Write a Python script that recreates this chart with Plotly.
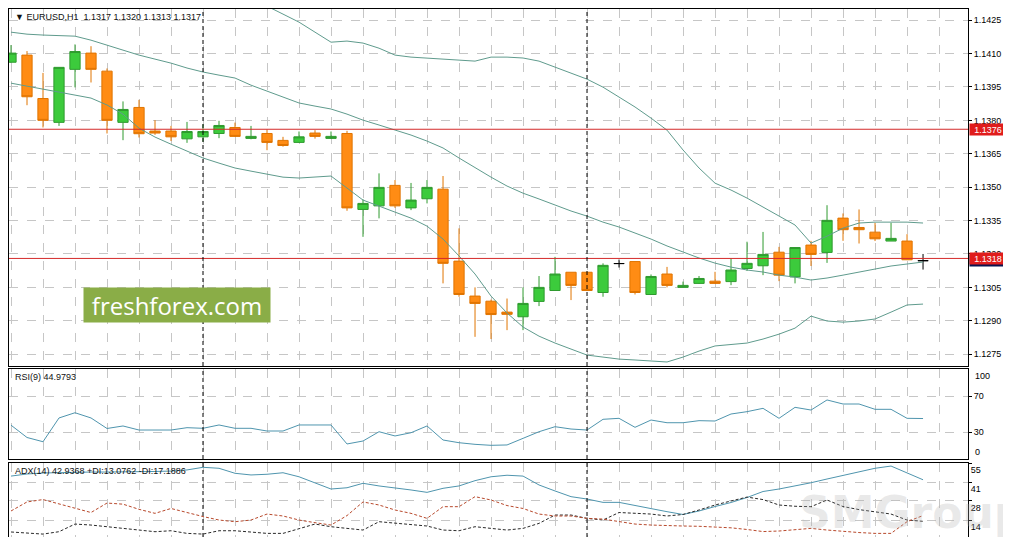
import plotly.graph_objects as go

# EURUSD H1, values
opens = [1.14061, 1.14093, 1.13898, 1.13791, 1.14029, 1.14102, 1.14021, 1.13791, 1.13858, 1.13752,
         1.13752, 1.13717, 1.13726, 1.13741, 1.13768, 1.13719, 1.13741, 1.13710, 1.13701, 1.13743,
         1.13719, 1.13741, 1.13400, 1.13416, 1.13508, 1.13407, 1.13448, 1.13491, 1.13168, 1.13011,
         1.12988, 1.12939, 1.12918, 1.12987, 1.13036, 1.13118, 1.13118, 1.13027, 1.13157, 1.13166,
         1.13018, 1.13110, 1.13050, 1.13068, 1.13078, 1.13076, 1.13135, 1.13147, 1.13208, 1.13097,
         1.13240, 1.13207, 1.13361, 1.13319, 1.13298, 1.13258, 1.13258, 1.13170]
highs = [1.14138, 1.14111, 1.14013, 1.14039, 1.14141, 1.14133, 1.14033, 1.13885, 1.13892, 1.13801,
         1.13775, 1.13793, 1.13782, 1.13798, 1.13790, 1.13775, 1.13759, 1.13726, 1.13750, 1.13756,
         1.13750, 1.13753, 1.13445, 1.13562, 1.13532, 1.13519, 1.13532, 1.13550, 1.13315, 1.13050,
         1.12995, 1.13000, 1.13050, 1.13101, 1.13187, 1.13118, 1.13120, 1.13158, 1.13175, 1.13166,
         1.13108, 1.13142, 1.13076, 1.13101, 1.13120, 1.13180, 1.13255, 1.13299, 1.13232, 1.13230,
         1.13259, 1.13419, 1.13382, 1.13400, 1.13340, 1.13340, 1.13289, 1.13200]
lows = [1.14058, 1.13868, 1.13768, 1.13775, 1.13948, 1.13970, 1.13741, 1.13711, 1.13723, 1.13735,
        1.13707, 1.13699, 1.13704, 1.13720, 1.13725, 1.13715, 1.13666, 1.13682, 1.13700, 1.13718,
        1.13717, 1.13394, 1.13277, 1.13360, 1.13407, 1.13397, 1.13427, 1.13068, 1.13008, 1.12828,
        1.12818, 1.12858, 1.12858, 1.12966, 1.13036, 1.12993, 1.13034, 1.13008, 1.13139, 1.13018,
        1.13018, 1.13050, 1.13050, 1.13066, 1.13066, 1.13060, 1.13124, 1.13105, 1.13078, 1.13068,
        1.13146, 1.13160, 1.13259, 1.13247, 1.13258, 1.13258, 1.13174, 1.13130]
closes = [1.14102, 1.13906, 1.13800, 1.14038, 1.14109, 1.14029, 1.13800, 1.13849, 1.13740, 1.13743,
          1.13726, 1.13750, 1.13750, 1.13777, 1.13728, 1.13728, 1.13701, 1.13687, 1.13726, 1.13728,
          1.13728, 1.13407, 1.13427, 1.13499, 1.13416, 1.13442, 1.13499, 1.13158, 1.13018, 1.12978,
          1.12928, 1.12929, 1.12978, 1.13050, 1.13110, 1.13059, 1.13036, 1.13149, 1.13157, 1.13027,
          1.13099, 1.13059, 1.13059, 1.13090, 1.13068, 1.13128, 1.13158, 1.13198, 1.13105, 1.13229,
          1.13198, 1.13351, 1.13309, 1.13309, 1.13268, 1.13270, 1.13174, 1.13170]

# bollinger bands
bb_upper = [1.14425, 1.14421, 1.14425, 1.14434, 1.14443, 1.14421, 1.14407, 1.14403, 1.14421, 1.14425,
            1.14421, 1.14407, 1.14403, 1.14398, 1.14394, 1.14344, 1.14313, 1.14277, 1.14241, 1.14196,
            1.14151, 1.14156, 1.14147, 1.14124, 1.14093, 1.14084, 1.14080, 1.14075, 1.14071, 1.14066,
            1.14084, 1.14084, 1.14080, 1.14066, 1.14039, 1.14012, 1.13985, 1.13949, 1.13905, 1.13860,
            1.13810, 1.13756, 1.13667, 1.13586, 1.13518, 1.13487, 1.13451, 1.13411, 1.13370, 1.13330,
            1.13249, 1.13280, 1.13316, 1.13339, 1.13343, 1.13343, 1.13343, 1.13339]
bb_mid = [1.14196, 1.14187, 1.14183, 1.14181, 1.14178, 1.14160, 1.14138, 1.14116, 1.14093, 1.14075,
          1.14057, 1.14035, 1.14017, 1.14003, 1.13990, 1.13958, 1.13931, 1.13905, 1.13878, 1.13864,
          1.13851, 1.13828, 1.13801, 1.13779, 1.13756, 1.13734, 1.13707, 1.13676, 1.13631, 1.13586,
          1.13545, 1.13505, 1.13473, 1.13447, 1.13420, 1.13393, 1.13370, 1.13343, 1.13321, 1.13294,
          1.13267, 1.13236, 1.13209, 1.13182, 1.13159, 1.13141, 1.13128, 1.13119, 1.13105, 1.13096,
          1.13083, 1.13092, 1.13105, 1.13119, 1.13132, 1.13146, 1.13155, 1.13164]
bb_lower = [1.13967, 1.13954, 1.13940, 1.13927, 1.13913, 1.13900, 1.13869, 1.13828, 1.13765, 1.13725,
            1.13693, 1.13662, 1.13631, 1.13608, 1.13586, 1.13572, 1.13559, 1.13545, 1.13541, 1.13545,
            1.13550, 1.13496, 1.13442, 1.13415, 1.13388, 1.13361, 1.13325, 1.13267, 1.13191, 1.13110,
            1.13011, 1.12935, 1.12872, 1.12831, 1.12800, 1.12773, 1.12746, 1.12737, 1.12728, 1.12724,
            1.12719, 1.12715, 1.12737, 1.12764, 1.12787, 1.12795, 1.12800, 1.12818, 1.12840, 1.12867,
            1.12921, 1.12899, 1.12894, 1.12899, 1.12908, 1.12939, 1.12971, 1.12975]

rsi = [37.6, 23.9, 19.2, 45.6, 51.4, 45.6, 33.9, 36.7, 32.2, 32.2,
       32.2, 34.8, 34.1, 37.8, 34.1, 34.1, 31.1, 31.1, 37.8, 37.8,
       37.8, 16.7, 20.0, 30.3, 25.6, 29.2, 36.7, 21.1, 18.1, 16.3,
       15.2, 15.6, 23.0, 30.3, 35.9, 33.3, 32.2, 44.1, 45.2, 35.2,
       43.3, 40.3, 40.3, 42.6, 42.2, 50.0, 52.6, 56.3, 45.2, 57.4,
       54.4, 65.6, 61.1, 61.1, 55.2, 55.2, 45.2, 44.9793]

adx = [45.6, 47.1, 47.8, 48.2, 48.5, 48.5, 48.5, 48.5, 48.5, 48.9,
       49.2, 50.0, 51.9, 51.2, 47.6, 46.4, 46.9, 48.0, 45.1, 40.8,
       36.3, 37.2, 40.4, 38.5, 37.2, 35.6, 33.9, 36.8, 38.5, 42.3,
       45.1, 46.2, 45.6, 39.2, 34.9, 30.8, 29.1, 26.7, 26.7, 24.3,
       21.9, 20.0, 18.0, 20.5, 23.7, 26.6, 30.2, 34.5, 36.3, 38.5,
       40.8, 43.5, 46.0, 48.5, 51.2, 52.8, 47.6, 42.9368]
plus_di = [5.4, 4.6, 3.9, 5.6, 11.1, 10.4, 9.3, 8.0, 6.8, 5.6,
           6.3, 4.4, 3.9, 6.3, 6.3, 5.6, 4.4, 4.4, 8.0, 11.1,
           9.2, 8.0, 6.8, 12.8, 11.6, 10.4, 9.7, 6.8, 6.3, 9.2,
           8.0, 6.8, 8.0, 11.6, 17.6, 17.6, 15.2, 14.0, 19.4, 18.8,
           18.3, 16.9, 18.0, 21.2, 24.8, 27.7, 30.5, 28.7, 24.8, 23.9,
           23.6, 28.4, 23.7, 21.5, 20.0, 18.3, 14.0, 13.0762]
minus_di = [20.5, 27.0, 28.7, 25.5, 22.4, 19.4, 26.2, 25.4, 21.7, 18.8,
            22.3, 19.2, 16.5, 14.0, 12.8, 14.0, 18.3, 16.9, 14.0, 12.1,
            10.4, 17.2, 27.0, 24.8, 21.2, 18.8, 15.2, 23.6, 23.6, 30.8,
            28.4, 24.4, 22.3, 18.3, 16.9, 16.9, 15.2, 14.7, 12.8, 11.1,
            10.4, 9.9, 9.7, 9.5, 9.2, 8.4, 7.2, 5.7, 6.1, 7.2,
            8.0, 6.8, 5.7, 5.0, 4.4, 4.4, 12.8, 17.1886]

price_ticks = [1.1425, 1.1410, 1.1395, 1.1380, 1.1365, 1.1350, 1.1335, 1.1320, 1.1305, 1.1290, 1.1275]
levels = [1.1376, 1.1318]
day_starts = [12, 36]
rsi_levels = [70, 30]
adx_ticks = [55, 41, 28, 14]

idx = list(range(len(closes)))
body = [i for i in idx if opens[i] != closes[i]]
doji = [i for i in idx if opens[i] == closes[i]]

font = 'Liberation Sans, Arial, sans-serif'
tick_font = dict(family=font, size=9, color='black')
band_color = '#5f9b8d'
ind_color = '#4f95ae'

fig = go.Figure()

fig.add_trace(go.Candlestick(
    x=body, open=[opens[i] for i in body], high=[highs[i] for i in body],
    low=[lows[i] for i in body], close=[closes[i] for i in body],
    increasing=dict(line=dict(color='#2f9a2f', width=1), fillcolor='#3ccb3c'),
    decreasing=dict(line=dict(color='#e07400', width=1), fillcolor='#ff8c14'),
    xaxis='x', yaxis='y'))
fig.add_trace(go.Candlestick(
    x=doji, open=[opens[i] for i in doji], high=[highs[i] for i in doji],
    low=[lows[i] for i in doji], close=[closes[i] for i in doji],
    increasing=dict(line=dict(color='black', width=1), fillcolor='black'),
    decreasing=dict(line=dict(color='black', width=1), fillcolor='black'),
    xaxis='x', yaxis='y'))

for band in [bb_upper, bb_mid, bb_lower]:
    fig.add_trace(go.Scatter(x=idx, y=band, mode='lines',
                             line=dict(color=band_color, width=1), xaxis='x', yaxis='y'))

fig.add_trace(go.Scatter(x=idx, y=rsi, mode='lines', line=dict(color=ind_color, width=1),
                         xaxis='x2', yaxis='y2'))

fig.add_trace(go.Scatter(x=idx, y=adx, mode='lines', line=dict(color=ind_color, width=1),
                         xaxis='x3', yaxis='y3'))
fig.add_trace(go.Scatter(x=idx, y=plus_di, mode='lines',
                         line=dict(color='#2a2a2a', width=1, dash='3px,2px'), xaxis='x3', yaxis='y3'))
fig.add_trace(go.Scatter(x=idx, y=minus_di, mode='lines',
                         line=dict(color='#b8492c', width=1, dash='3px,2px'), xaxis='x3', yaxis='y3'))

grid = dict(showgrid=True, gridcolor='#c6c6c6', griddash='dash', gridwidth=1, zeroline=False)
xcommon = dict(range=[-0.125, 59.81], tickvals=list(range(0, 60, 2)), showticklabels=False,
               ticks='', showline=True, mirror=True, linecolor='black', linewidth=1, **grid)
ycommon = dict(side='right', ticks='outside', ticklen=3, tickcolor='black', tickfont=tick_font,
               showline=True, mirror=True, linecolor='black', linewidth=1, **grid)

# page body adds an 8px offset, so the figure starts at the chart frame
fig.update_layout(
    width=1003, height=529, margin=dict(l=1, r=43, t=1, b=0),
    paper_bgcolor='white', plot_bgcolor='white', showlegend=False,
    boxgap=0.2, boxgroupgap=0.2, hovermode=False,
    xaxis=dict(anchor='y', rangeslider=dict(visible=False), **xcommon),
    xaxis2=dict(anchor='y2', matches='x', **xcommon),
    xaxis3=dict(anchor='y3', matches='x', **xcommon),
    yaxis=dict(domain=[0.32386, 1.0], range=[1.12697, 1.14300], anchor='x',
               tickvals=price_ticks, tickformat='.4f', **ycommon),
    yaxis2=dict(domain=[0.14773, 0.31818], range=[0, 100], anchor='x2',
                tickvals=rsi_levels, **ycommon),
    yaxis3=dict(domain=[0, 0.14015], range=[1.8, 55], anchor='x3',
                tickvals=adx_ticks, ticklabelposition='outside bottom', **ycommon),
)

shapes = []
for lv in levels:
    shapes.append(dict(type='line', xref='x domain', yref='y', x0=0, x1=1, y0=lv, y1=lv,
                       line=dict(color='#d42a2a', width=1)))
for d in day_starts:
    for ya in ['y', 'y2', 'y3']:
        shapes.append(dict(type='line', xref='x', yref=ya + ' domain', x0=d, x1=d, y0=0, y1=1,
                           line=dict(color='black', width=1, dash='4px,3px')))
fig.update_layout(shapes=shapes)

ann = []
header = 'EURUSD,H1  %.4f %.4f %.4f %.4f' % (opens[-1], highs[-1], lows[-1], closes[-1])
ann.append(dict(xref='x domain', yref='y domain', x=0, y=1, xanchor='left', yanchor='top',
                xshift=4, yshift=-1, showarrow=False, text='▼ ' + header,
                font=dict(family=font, size=9, color='#111111')))
ann.append(dict(xref='x2 domain', yref='y2 domain', x=0, y=1, xanchor='left', yanchor='top',
                xshift=4, yshift=-1, showarrow=False, text='RSI(9) %.4f' % rsi[-1],
                font=dict(family=font, size=9, color='#111111')))
ann.append(dict(xref='x3 domain', yref='y3 domain', x=0, y=1, xanchor='left', yanchor='top',
                xshift=4, yshift=-1, showarrow=False,
                text='ADX(14) %.4f +DI:%.4f -DI:%.4f' % (adx[-1], plus_di[-1], minus_di[-1]),
                font=dict(family=font, size=9, color='#111111')))
ann.append(dict(xref='paper', yref='y2', x=1, y=100, xanchor='left', yanchor='top', xshift=5,
                showarrow=False, text='100', font=tick_font))
ann.append(dict(xref='paper', yref='y2', x=1, y=0, xanchor='left', yanchor='bottom', xshift=5,
                showarrow=False, text='0', font=tick_font))
# current bid label sits behind the level label
ann.append(dict(xref='paper', yref='y', x=1, y=closes[-1], xanchor='left', yanchor='middle', xshift=1,
                showarrow=False, text='%.4f' % closes[-1], bgcolor='#0a1450', width=36, height=11,
                borderpad=0, font=dict(family=font, size=9, color='white')))
for lv in levels:
    ann.append(dict(xref='paper', yref='y', x=1, y=lv, xanchor='left', yanchor='middle', xshift=1,
                    showarrow=False, text='%.4f' % lv, bgcolor='#e01c1c', width=36, height=11,
                    borderpad=0, font=dict(family=font, size=9, color='white')))
ann.append(dict(xref='paper', yref='paper', x=0.1757, y=0.4403, xanchor='center', yanchor='middle',
                showarrow=False, text='freshforex.com', bgcolor='#8aad47', width=186, height=34,
                borderpad=0, font=dict(family='Open Sans', size=24, color='white')))
ann.append(dict(xref='paper', yref='paper', x=0.8217, y=0.0455, xanchor='left', yanchor='middle',
                showarrow=False, text='<b>SMGroup</b>',
                font=dict(family='DejaVu Sans', size=44, color='rgba(180,180,180,0.28)')))
fig.update_layout(annotations=ann)

fig.write_html("out.html")
